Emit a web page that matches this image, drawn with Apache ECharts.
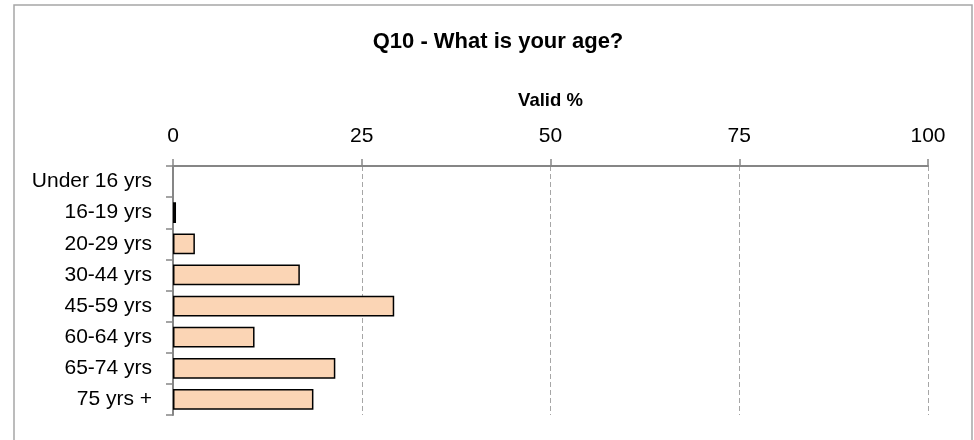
<!DOCTYPE html>
<html>
<head>
<meta charset="utf-8">
<script src="https://cdn.jsdelivr.net/npm/echarts@6/dist/echarts.min.js"></script>
<style>
html,body{margin:0;padding:0;background:#fff;}
#chart{width:974px;height:440px;}
</style>
</head>
<body>
<div id="chart"></div>
<script>
var titleText = 'Q10 - What is your age?';
var axisName = 'Valid %';
var categories = ['Under 16 yrs','16-19 yrs','20-29 yrs','30-44 yrs','45-59 yrs','60-64 yrs','65-74 yrs','75 yrs +'];
var values = [0, 0.4, 2.9, 16.8, 29.3, 10.8, 21.5, 18.6];
var xTicks = [0, 25, 50, 75, 100];

var FONT = '"Liberation Sans", Arial, sans-serif';
var barData = values.map(function (v) {
  return v === 0 ? {value: v, itemStyle: {borderWidth: 0}} : v;
});
var chart = echarts.init(document.getElementById('chart'), null, {renderer:'canvas'});
chart.setOption({
  animation: false,
  backgroundColor: '#ffffff',
  graphic: [{
    type: 'rect',
    shape: {x: 14, y: 5, width: 958, height: 445},
    style: {fill: 'none', stroke: '#a6a6a6', lineWidth: 1.5},
    silent: true
  }],
  title: {
    text: titleText,
    left: 493, top: 26, textAlign: 'center',
    textStyle: {fontFamily: FONT, fontWeight: 'bold', fontSize: 22, color: '#000'}
  },
  grid: {left: 173, right: 46, top: 166, bottom: 25},
  xAxis: {
    type: 'value',
    position: 'top',
    min: xTicks[0], max: xTicks[xTicks.length-1], interval: 25,
    name: axisName,
    nameLocation: 'middle',
    nameGap: 56,
    nameTextStyle: {fontFamily: FONT, fontWeight: 'bold', fontSize: 18.5, color: '#000'},
    axisLine: {show: true, lineStyle: {color: '#868686', width: 2}},
    axisTick: {show: true, length: 7, lineStyle: {color: '#868686', width: 1.5}},
    axisLabel: {fontFamily: FONT, fontSize: 21, color: '#000', margin: 19},
    splitLine: {show: true, lineStyle: {color: '#a6a6a6', type: [5,3], width: 1}}
  },
  yAxis: {
    type: 'category',
    inverse: true,
    data: categories,
    axisLine: {show: true, lineStyle: {color: '#868686', width: 2}},
    axisTick: {show: true, length: 7, alignWithLabel: false, lineStyle: {color: '#868686', width: 1.5}},
    axisLabel: {fontFamily: FONT, fontSize: 21, color: '#000', margin: 21},
    splitLine: {show: false}
  },
  series: [{
    type: 'bar',
    data: barData,
    barCategoryGap: '33%',
    itemStyle: {color: '#fbd5b5', borderColor: '#000', borderWidth: 1.5},
    z: 3
  }]
});
</script>
</body>
</html>
